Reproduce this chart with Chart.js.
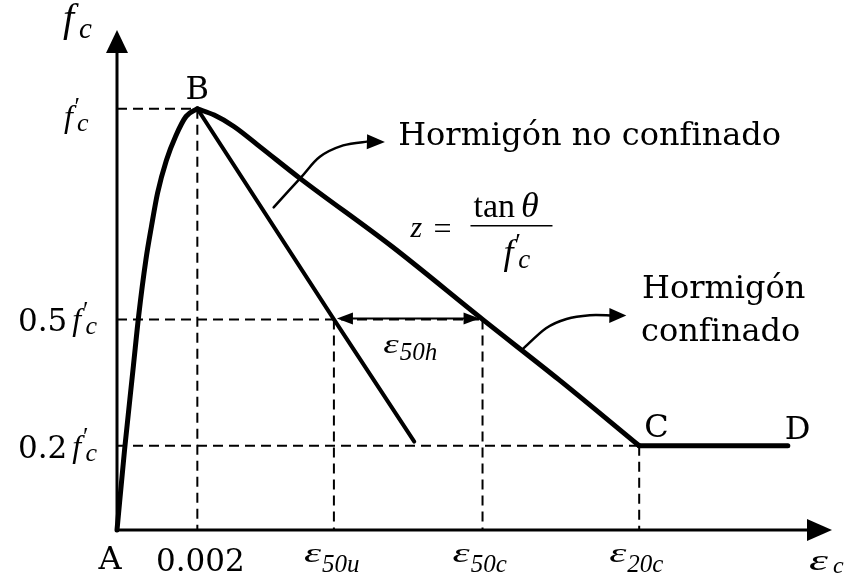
<!DOCTYPE html>
<html lang="es">
<head>
<meta charset="utf-8">
<title>Curva esfuerzo–deformación del hormigón</title>
<script src="https://cdn.jsdelivr.net/npm/chart.js@4.4.1/dist/chart.umd.min.js"></script>
<style>
  html, body { margin: 0; padding: 0; background: #ffffff; }
  canvas { display: block; }
</style>
</head>
<body>
<canvas id="chart" width="845" height="581"></canvas>
<script>
// Strain (x) against stress expressed as a fraction of f'c (y)

// rising branch A -> B, shared by both concretes
const ascStrain = [0, 0.00019, 0.00041, 0.00054, 0.00072, 0.00086, 0.00101, 0.00123, 0.00146, 0.00172, 0.002];
const ascStress = [0, 0.192, 0.391, 0.509, 0.642, 0.722, 0.800, 0.878, 0.935, 0.982, 1.0];

// unconfined descending branch
const uncStrain = [0.002, 0.0054, 0.0074];
const uncStress = [1.0, 0.5, 0.21];

// confined descending branch B -> C
const confStrain = [0.002, 0.00242, 0.00291, 0.00357, 0.00458, 0.00683, 0.0091, 0.0110, 0.0130];
const confStress = [1.0, 0.985, 0.958, 0.909, 0.833, 0.674, 0.5, 0.357, 0.2];

// residual plateau C -> D
const resStrain = [0.0130, 0.0167];
const resStress = [0.2, 0.2];

// reference strains and stress levels
const strainTicks = [0.002, 0.0054, 0.0091, 0.0130];
const strainTickLabels = [['0.002', ''], ['ε', '50u'], ['ε', '50c'], ['ε', '20c']];
const strainGuideLevel = [1, 0.5, 0.5, 0.2];   // stress each dashed vertical drops from
const stressTicks = [1, 0.5, 0.2];
const stressTickLabels = ['', '0.5', '0.2'];

// scale extents
const X_MAX = 0.0178, Y_MAX = 1.187;

const SERIF = '"DejaVu Serif", serif';
const MATH = '"Liberation Serif", "Times New Roman", serif';

const pts = (xs, ys) => xs.map((x, i) => ({ x, y: ys[i] }));

const solid = (data, width, smooth) => ({
  data, showLine: true, borderColor: '#000', borderWidth: width,
  pointRadius: 0, pointHoverRadius: 0, fill: false, clip: false,
  borderCapStyle: 'round', borderJoinStyle: 'round',
  cubicInterpolationMode: smooth ? 'monotone' : 'default', tension: 0
});
const dashed = data => ({
  data, showLine: true, borderColor: '#000', borderWidth: 2, borderDash: [10, 6],
  pointRadius: 0, pointHoverRadius: 0, fill: false, clip: false, tension: 0
});

const datasets = [
  solid(pts(ascStrain, ascStress), 5, true),
  solid(pts(confStrain, confStress), 5, true),
  solid(pts(resStrain, resStress), 5, false),
  solid(pts(uncStrain, uncStress), 4, false)
];
// dashed horizontals from the stress axis to the furthest reference strain at that level
stressTicks.forEach(s => {
  const ends = strainTicks.filter((e, i) => strainGuideLevel[i] === s);
  datasets.push(dashed([{ x: 0, y: s }, { x: Math.max(...ends), y: s }]));
});
// dashed verticals down to the strain axis
strainTicks.forEach((e, i) => datasets.push(dashed([{ x: e, y: strainGuideLevel[i] }, { x: e, y: 0 }])));

// annotation geometry in data units
const noteUnconfined = { x: 0.0070, y: 0.914 };
const noteConfined = { x: 0.01307, y: 0.551 };
const noteFormula = { x: 0.0088, y: 0.722 };
const arrowUnconfined = [[0.00390, 0.766], [0.00457, 0.836], [0.00505, 0.886], [0.00563, 0.913], [0.00622, 0.922], [0.00667, 0.921]];
const arrowConfined = [[0.01009, 0.4285], [0.01068, 0.479], [0.01119, 0.501], [0.01177, 0.510], [0.01268, 0.509]];

function put(ctx, s, x, y, font, align) {
  ctx.font = font;
  ctx.textAlign = align || 'left';
  ctx.fillText(s, x, y);
  const w = ctx.measureText(s).width;
  ctx.textAlign = 'left';
  return w;
}

// text stretched horizontally (the wide script epsilon)
function putWide(ctx, s, x, y, font, sx) {
  ctx.save();
  ctx.translate(x, y);
  ctx.scale(sx, 1);
  ctx.font = font;
  ctx.textAlign = 'left';
  ctx.fillText(s, 0, 0);
  const w = ctx.measureText(s).width * sx;
  ctx.restore();
  return w;
}

function tri(ctx, tx, ty, ux, uy, len, half) {
  const bx = tx - ux * len, by = ty - uy * len;
  ctx.beginPath();
  ctx.moveTo(tx, ty);
  ctx.lineTo(bx - uy * half, by + ux * half);
  ctx.lineTo(bx + uy * half, by - ux * half);
  ctx.closePath();
  ctx.fill();
}

// f'c written as italic f, prime and subscript c; returns right edge
function fPrimeC(ctx, x, y, fSize, cSize) {
  put(ctx, 'f', x, y, `italic ${fSize}px ${MATH}`);
  put(ctx, '′', x + fSize * 0.33, y - fSize * 0.36, `${Math.round(cSize * 0.95)}px ${MATH}`);
  const wc = put(ctx, 'c', x + fSize * 0.41, y + 4, `italic ${cSize}px ${MATH}`);
  return x + fSize * 0.41 + wc;
}

function smoothPath(ctx, p) {
  ctx.moveTo(p[0][0], p[0][1]);
  for (let i = 0; i < p.length - 1; i++) {
    const p0 = p[i - 1] || p[i], p1 = p[i], p2 = p[i + 1], p3 = p[i + 2] || p2;
    ctx.bezierCurveTo(
      p1[0] + (p2[0] - p0[0]) / 6, p1[1] + (p2[1] - p0[1]) / 6,
      p2[0] - (p3[0] - p1[0]) / 6, p2[1] - (p3[1] - p1[1]) / 6,
      p2[0], p2[1]);
  }
}

function curvedArrow(ctx, p, headLen, headHalf) {
  const n = p.length, tip = p[n - 1], prev = p[n - 2];
  const dx = tip[0] - prev[0], dy = tip[1] - prev[1], L = Math.hypot(dx, dy);
  const ux = dx / L, uy = dy / L;
  const base = [tip[0] - ux * headLen, tip[1] - uy * headLen];
  ctx.beginPath();
  smoothPath(ctx, p.slice(0, n - 1).concat([base]));
  ctx.stroke();
  tri(ctx, tip[0], tip[1], ux, uy, headLen + 1, headHalf);
}

const decor = {
  id: 'decor',
  afterDatasetsDraw(chart) {
    const { ctx } = chart;
    const xs = chart.scales.x, ys = chart.scales.y;
    const X = v => xs.getPixelForValue(v), Y = v => ys.getPixelForValue(v);
    const ox = X(0), oy = Y(0), xEnd = X(X_MAX), yEnd = Y(Y_MAX);

    ctx.save();
    ctx.fillStyle = '#000';
    ctx.strokeStyle = '#000';
    ctx.textBaseline = 'alphabetic';

    // axes with arrowheads
    ctx.lineWidth = 3;
    ctx.lineJoin = 'miter';
    ctx.beginPath();
    ctx.moveTo(ox, yEnd + 20);
    ctx.lineTo(ox, oy);
    ctx.lineTo(xEnd - 22, oy);
    ctx.stroke();
    tri(ctx, ox, yEnd, 0, -1, 23, 11);
    tri(ctx, xEnd, oy, 1, 0, 25, 11);

    // axis titles
    put(ctx, 'f', ox - 54, yEnd + 1, `italic 40px ${MATH}`);
    put(ctx, 'c', ox - 38, yEnd + 8, `italic 29px ${MATH}`);
    putWide(ctx, 'ε', xEnd - 23, oy + 40, `italic 30px ${MATH}`, 1.6);
    put(ctx, 'c', xEnd + 1, oy + 43, `italic 24px ${MATH}`);

    // stress tick labels
    stressTicks.forEach((s, i) => {
      const y = Y(s), num = stressTickLabels[i];
      if (num) {
        ctx.font = `italic 26px ${MATH}`;
        const wc = ctx.measureText('c').width;
        const fx = ox - 20 - wc - 32 * 0.41;
        put(ctx, num, fx - 5, y + 12, `31px ${SERIF}`, 'right');
        fPrimeC(ctx, fx, y + 11, 32, 26);
      } else {
        fPrimeC(ctx, ox - 53, y + 18, 32, 26);
      }
    });

    // strain tick labels
    strainTicks.forEach((e, i) => {
      const x = X(e), [main, sub] = strainTickLabels[i];
      if (!sub) {
        put(ctx, main, x + 3, oy + 41, `31px ${SERIF}`, 'center');
      } else {
        const w = putWide(ctx, main, x - 30, oy + 32, `italic 28px ${MATH}`, 1.55);
        put(ctx, sub, x - 30 + w + 1, oy + 42, `italic 25px ${MATH}`);
      }
    });

    // point letters
    const pointFont = `32px ${SERIF}`;
    put(ctx, 'A', ox - 7, oy + 39, pointFont, 'center');
    put(ctx, 'B', X(ascStrain[ascStrain.length - 1]), Y(1) - 10, pointFont, 'center');
    put(ctx, 'C', X(resStrain[0]) + 5, Y(resStress[0]) - 9, pointFont);
    put(ctx, 'D', X(resStrain[1]) - 3, Y(resStress[1]) - 7, pointFont);

    // descriptive notes
    const noteFont = `32px ${SERIF}`;
    put(ctx, 'Hormigón no confinado', X(noteUnconfined.x), Y(noteUnconfined.y), noteFont);
    put(ctx, 'Hormigón', X(noteConfined.x), Y(noteConfined.y), noteFont);
    put(ctx, 'confinado', X(noteConfined.x) - 1, Y(noteConfined.y) + 43, noteFont);

    ctx.lineWidth = 2.5;
    ctx.lineCap = 'round';
    curvedArrow(ctx, arrowUnconfined.map(([a, b]) => [X(a), Y(b)]), 17, 7.5);
    curvedArrow(ctx, arrowConfined.map(([a, b]) => [X(a), Y(b)]), 16, 7.5);

    // ε50h spacing between the two branches at 0.5 f'c
    const ya = Y(0.5) - 1, xa = X(strainTicks[1]), xb = X(strainTicks[2]);
    ctx.lineWidth = 2;
    ctx.lineCap = 'butt';
    ctx.beginPath();
    ctx.moveTo(xa + 14, ya);
    ctx.lineTo(xb - 14, ya);
    ctx.stroke();
    tri(ctx, xa + 3, ya, -1, 0, 16, 6);
    tri(ctx, xb - 3, ya, 1, 0, 16, 6);
    const mid = (xa + xb) / 2;
    const we = putWide(ctx, 'ε', mid - 25, ya + 35, `italic 28px ${MATH}`, 1.4);
    put(ctx, '50h', mid - 25 + we + 1, ya + 42, `italic 25px ${MATH}`);

    // z = tan θ / f'c
    const bx = X(noteFormula.x), by = Y(noteFormula.y);
    put(ctx, 'z', bx - 60, by + 11, `italic 30px ${MATH}`);
    put(ctx, '=', bx - 37, by + 13, `32px ${MATH}`);
    ctx.lineWidth = 1.5;
    ctx.beginPath();
    ctx.moveTo(bx, by);
    ctx.lineTo(bx + 82, by);
    ctx.stroke();
    const wt = put(ctx, 'tan', bx + 3, by - 9, `34px ${MATH}`);
    put(ctx, 'θ', bx + 3 + wt + 6, by - 9, `italic 36px ${MATH}`);
    fPrimeC(ctx, bx + 33, by + 38, 36, 27);

    ctx.restore();
  }
};

new Chart(document.getElementById('chart'), {
  type: 'scatter',
  data: { datasets },
  options: {
    responsive: false,
    animation: false,
    devicePixelRatio: 1,
    events: [],
    layout: { padding: { left: 117, right: 13, top: 30, bottom: 51 } },
    scales: {
      x: { type: 'linear', min: 0, max: X_MAX, display: false },
      y: { type: 'linear', min: 0, max: Y_MAX, display: false }
    },
    plugins: { legend: { display: false }, tooltip: { enabled: false } }
  },
  plugins: [decor]
});
</script>
</body>
</html>
